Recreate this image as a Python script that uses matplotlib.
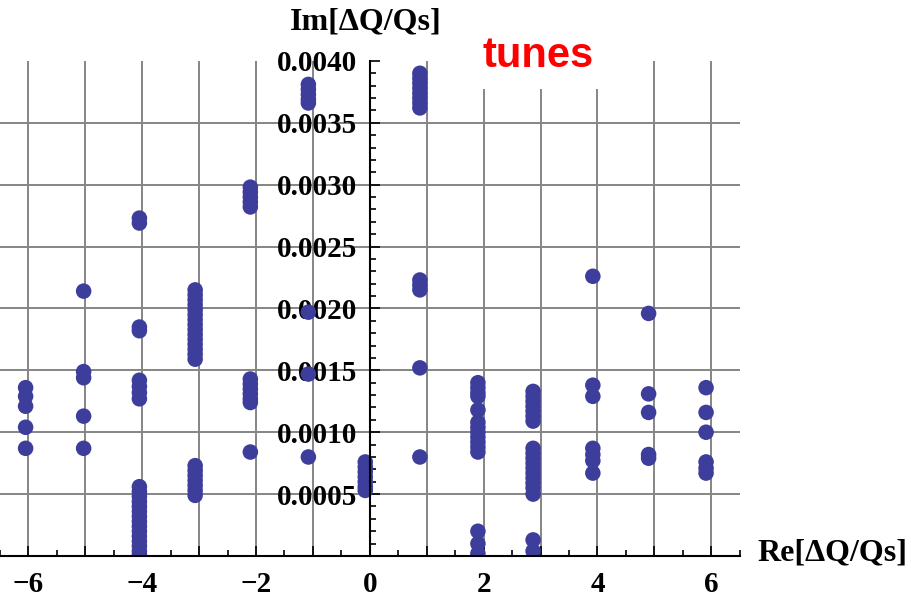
import matplotlib.pyplot as plt
from matplotlib.ticker import MultipleLocator, FuncFormatter

# Re[dQ/Qs] position of each column of eigen-tunes
re_pos = [-6.05, -5.03, -4.05, -3.07, -2.1, -1.08, -0.08, 0.88, 1.9, 2.87, 3.92, 4.9, 5.91]

# Im[dQ/Qs] values read along each column
im_m6 = [0.00136, 0.00129, 0.00121, 0.00104, 0.00087]
im_m5 = [0.00214, 0.00149, 0.00144, 0.00113, 0.00087]
im_m4 = [0.00273, 0.00269, 0.00185, 0.00182, 0.00142, 0.00137, 0.00132, 0.00127,
         0.00056, 0.00052, 0.00048, 0.00044, 0.00040, 0.00036, 0.00032, 0.00028,
         0.00024, 0.00020, 0.00016, 0.00012, 0.00008, 0.00004, 0.00001]
im_m3 = [0.00215, 0.00211, 0.00207, 0.00203, 0.00199, 0.00195, 0.00191, 0.00187,
         0.00183, 0.00179, 0.00175, 0.00171, 0.00167, 0.00163, 0.00159,
         0.00073, 0.00069, 0.00065, 0.00061, 0.00057, 0.00053, 0.00049]
im_m2 = [0.00298, 0.00294, 0.00290, 0.00286, 0.00282,
         0.00143, 0.00139, 0.00135, 0.00131, 0.00127, 0.00124, 0.00084]
im_m1 = [0.00381, 0.00377, 0.00373, 0.00369, 0.00366, 0.00197, 0.00147, 0.00080]
im_0 = [0.00076, 0.00072, 0.00068, 0.00064, 0.00060, 0.00056, 0.00053]
im_p1 = [0.00390, 0.00386, 0.00382, 0.00378, 0.00374, 0.00370, 0.00366, 0.00362,
         0.00223, 0.00219, 0.00215, 0.00152, 0.00080]
im_p2 = [0.00140, 0.00136, 0.00132, 0.00129, 0.00118, 0.00108, 0.00104, 0.00100,
         0.00096, 0.00092, 0.00088, 0.00084, 0.00020, 0.00010, 0.00002]
im_p3 = [0.00133, 0.00129, 0.00125, 0.00121, 0.00117, 0.00113, 0.00109,
         0.00087, 0.00083, 0.00079, 0.00075, 0.00071, 0.00067, 0.00063, 0.00059,
         0.00055, 0.00050, 0.00013, 0.00004]
im_p4 = [0.00226, 0.00138, 0.00129, 0.00087, 0.00082, 0.00077, 0.00067]
im_p5 = [0.00196, 0.00131, 0.00116, 0.00082, 0.00079]
im_p6 = [0.00136, 0.00116, 0.00100, 0.00076, 0.00071, 0.00067]

im_cols = [im_m6, im_m5, im_m4, im_m3, im_m2, im_m1, im_0,
           im_p1, im_p2, im_p3, im_p4, im_p5, im_p6]

xs, ys = [], []
for x, col in zip(re_pos, im_cols):
    xs += [x] * len(col)
    ys += col

serif = "Liberation Serif"

fig = plt.figure(figsize=(9.12, 6.06), dpi=100)
ax = fig.add_axes([0.0, 0.0825, 0.811, 0.817])
ax.set_xlim(-6.5, 6.5)
ax.set_ylim(0, 0.004)

# grid: every integer in Re, every 0.0005 in Im (axes themselves at 0)
grid_x = [-6, -5, -4, -3, -2, -1, 1, 2, 3, 4, 5, 6]
grid_y = [0.0005, 0.0010, 0.0015, 0.0020, 0.0025, 0.0030, 0.0035]
ax.vlines(grid_x, 0, 0.004, color="#858585", lw=1.4, zorder=1)
ax.hlines(grid_y, -6.5, 6.5, color="#858585", lw=1.4, zorder=1)

ax.scatter(xs, ys, s=125, color="#3d3d9b", edgecolors="none", zorder=3)

# Mathematica-like axes crossing at the origin
for s in ["top", "right"]:
    ax.spines[s].set_visible(False)
ax.spines["left"].set_position(("data", 0))
ax.spines["left"].set_linewidth(1.5)
ax.spines["bottom"].set_linewidth(1.5)
ax.spines["left"].set_zorder(4)
ax.spines["bottom"].set_zorder(4)

ax.xaxis.set_major_locator(MultipleLocator(1))
ax.xaxis.set_minor_locator(MultipleLocator(0.5))
ax.xaxis.set_major_formatter(FuncFormatter(
    lambda v, p: f"{int(round(v))}".replace("-", "\u2212") if round(v) % 2 == 0 else ""))
ax.yaxis.set_major_locator(MultipleLocator(0.0005))
ax.yaxis.set_minor_locator(MultipleLocator(0.0001))
ax.yaxis.set_major_formatter(FuncFormatter(lambda v, p: "" if v < 1e-9 else f"{v:.4f}"))

ax.tick_params(which="both", direction="in", width=1.2, colors="black")
ax.tick_params(which="major", length=7)
ax.tick_params(which="minor", length=4)
ax.tick_params(axis="y", pad=9)
ax.tick_params(axis="x", pad=11)
for lab in ax.get_xticklabels() + ax.get_yticklabels():
    lab.set_fontfamily(serif)
    lab.set_fontweight("bold")
    lab.set_fontsize(21)

fig.text(366 / 912, 1 - 22 / 606, "Im[\u0394Q/Qs]", family=serif, weight="bold",
         fontsize=23, ha="center", va="center")
fig.text(757 / 912, 1 - 553 / 606, "Re[\u0394Q/Qs]", family=serif, weight="bold",
         fontsize=23, ha="left", va="center")
fig.text(483 / 912, 1 - 67 / 606, "tunes", family="Liberation Sans", weight="bold",
         fontsize=30, color="red", ha="left", va="baseline",
         bbox=dict(facecolor="white", edgecolor="none", pad=9))

fig.savefig("out.png", dpi=100)
